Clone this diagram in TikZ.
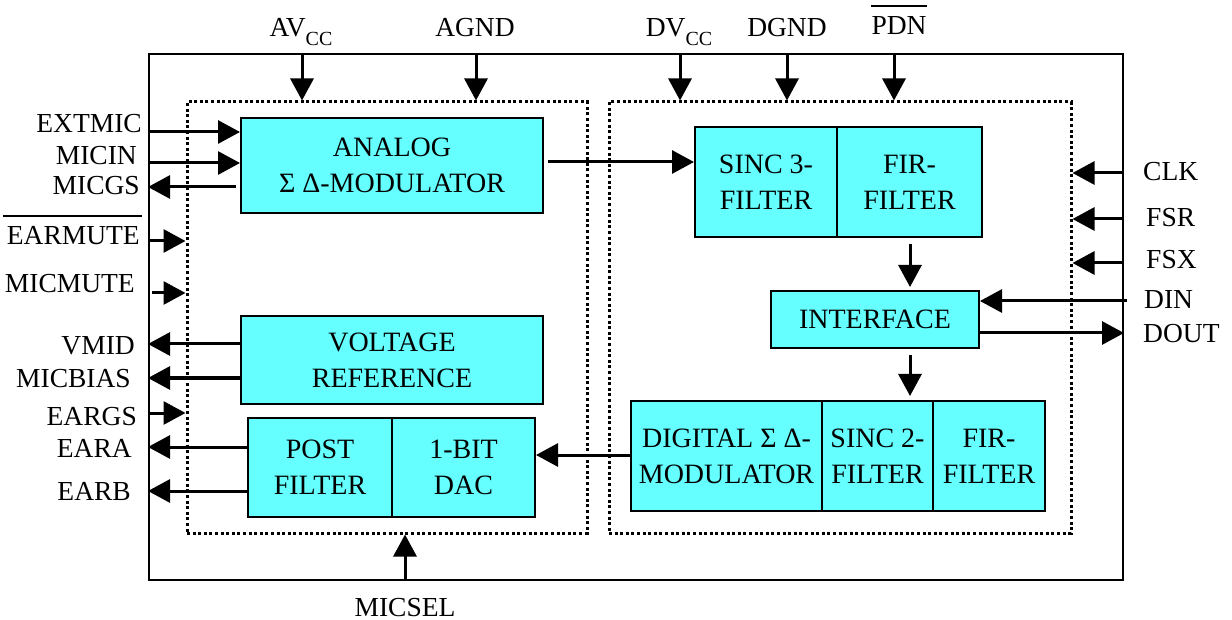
\documentclass[tikz,border=0pt]{standalone}
\usepackage{fontspec}
\setmainfont{Liberation Serif}
\usetikzlibrary{arrows.meta}
\definecolor{blk}{RGB}{102,255,255}
\begin{document}
\begin{tikzpicture}[x=1pt,y=-1pt,
  block/.style={draw=black, line width=2pt, fill=blk, inner sep=0pt, align=center,
    font=\fontsize{28}{36}\selectfont},
  lbl/.style={inner sep=0pt, font=\fontsize{27.5}{36}\selectfont},
  arr/.style={line width=3pt, -{Triangle[length=22pt,width=23pt]}},
  frame/.style={draw=black, line width=2pt, inner sep=0pt},
  dotbox/.style={draw=black, line width=3pt, dash pattern=on 3pt off 2.6pt, inner sep=0pt},
  bar/.style={line width=1.5pt}]
\useasboundingbox (0,0) rectangle (1232,620);

% chip outline and domains
\node[frame, minimum width=974pt, minimum height=526pt] (chip) at (636,317) {};
\node[dotbox, minimum width=400pt, minimum height=431pt] (ana) at (387,317.5) {};
\node[dotbox, minimum width=462pt, minimum height=431pt] (dgt) at (840,317.5) {};

% blocks
\node[block, minimum width=302pt, minimum height=95pt] (analog) at (392,165.5) {ANALOG\\Σ Δ-MODULATOR};
\node[block, minimum width=302pt, minimum height=88pt] (vref) at (392,360) {VOLTAGE\\REFERENCE};
\node[block, minimum width=144pt, minimum height=99pt] (post) at (320,467.5) {POST\\FILTER};
\node[block, minimum width=143pt, minimum height=99pt] (dac) at (463.5,467.5) {1-BIT\\DAC};
\node[block, minimum width=142pt, minimum height=110pt] (sinc3) at (766,182) {SINC 3-\\FILTER};
\node[block, minimum width=145pt, minimum height=110pt] (fir1) at (909.5,182) {FIR-\\FILTER};
\node[block, minimum width=208pt, minimum height=57pt] (iface) at (875,319.5) {INTERFACE};
\node[block, minimum width=191pt, minimum height=110pt] (dig) at (726.5,456) {DIGITAL Σ Δ-\\MODULATOR};
\node[block, minimum width=111pt, minimum height=110pt] (sinc2) at (877.5,456) {SINC 2-\\FILTER};
\node[block, minimum width=112pt, minimum height=110pt] (fir2) at (989,456) {FIR-\\FILTER};

% top labels
\node[lbl, anchor=base] (avcc) at (301,37) {AV\raisebox{-9pt}{\fontsize{20}{20}\selectfont CC}};
\node[lbl, anchor=base] (agnd) at (475,37) {AGND};
\node[lbl, anchor=base] (dvcc) at (679,37) {DV\raisebox{-9pt}{\fontsize{20}{20}\selectfont CC}};
\node[lbl, anchor=base] (dgnd) at (787,37) {DGND};
\node[lbl, anchor=base] (pdn) at (899,35) {PDN};
\draw[bar] (pdn.west |- 0,6) -- (pdn.east |- 0,6);

% left labels
\node[lbl, anchor=base east] (extmic) at (142,133) {EXTMIC};
\node[lbl, anchor=base east] (micin) at (137,165) {MICIN};
\node[lbl, anchor=base east] (micgs) at (140,195) {MICGS};
\node[lbl, anchor=base east] (earmute) at (140,245) {EARMUTE};
\draw[bar] ([xshift=-4pt]earmute.west |- 0,216) -- ([xshift=2pt]earmute.east |- 0,216);
\node[lbl, anchor=base east] (micmute) at (135,293) {MICMUTE};
\node[lbl, anchor=base east] (vmid) at (135,355) {VMID};
\node[lbl, anchor=base east] (micbias) at (131,388) {MICBIAS};
\node[lbl, anchor=base east] (eargs) at (137,425) {EARGS};
\node[lbl, anchor=base east] (eara) at (132,457) {EARA};
\node[lbl, anchor=base east] (earb) at (131,500) {EARB};

% right labels
\node[lbl, anchor=base west] (clk) at (1143,181) {CLK};
\node[lbl, anchor=base west] (fsr) at (1146,227) {FSR};
\node[lbl, anchor=base west] (fsx) at (1146,269) {FSX};
\node[lbl, anchor=base west] (din) at (1144,309) {DIN};
\node[lbl, anchor=base west] (dout) at (1143,343) {DOUT};

% bottom label
\node[lbl, anchor=base] (micsel) at (405,616) {MICSEL};

% top pins
\draw[arr] (302,0 |- chip.north) -- (302,0 |- ana.north);
\draw[arr] (476,0 |- chip.north) -- (476,0 |- ana.north);
\draw[arr] (680,0 |- chip.north) -- (680,0 |- dgt.north);
\draw[arr] (787,0 |- chip.north) -- (787,0 |- dgt.north);
\draw[arr] (894,0 |- chip.north) -- (894,0 |- dgt.north);

% left pins
\draw[arr] (chip.west |- 0,132) -- (analog.west |- 0,132);
\draw[arr] (chip.west |- 0,163) -- (analog.west |- 0,163);
\draw[arr] ([xshift=-4pt]analog.west |- 0,187) -- (chip.west |- 0,187);
\draw[arr] ([xshift=2pt]chip.west |- 0,241) -- (ana.west |- 0,241);
\draw[arr] ([xshift=4pt]chip.west |- 0,293) -- (ana.west |- 0,293);
\draw[arr] (vref.west |- 0,344) -- (chip.west |- 0,344);
\draw[arr] (vref.west |- 0,378) -- (chip.west |- 0,378);
\draw[arr] (chip.west |- 0,413) -- (ana.west |- 0,413);
\draw[arr] (post.west |- 0,447) -- (chip.west |- 0,447);
\draw[arr] (post.west |- 0,491) -- (chip.west |- 0,491);

% right pins
\draw[arr] (chip.east |- 0,173) -- (dgt.east |- 0,173);
\draw[arr] (chip.east |- 0,219) -- (dgt.east |- 0,219);
\draw[arr] (chip.east |- 0,263) -- (dgt.east |- 0,263);
\draw[arr] ([xshift=3pt]chip.east |- 0,301) -- (iface.east |- 0,301);
\draw[arr] (iface.east |- 0,333) -- (chip.east |- 0,333);

% bottom pin
\draw[arr] (405,0 |- chip.south) -- (405,0 |- ana.south);

% internal flow
\draw[arr] ([xshift=4pt]analog.east |- 0,162) -- (sinc3.west |- 0,162);
\draw[arr, shorten <=6pt, shorten >=3pt] (910,0 |- fir1.south) -- (910,0 |- iface.north);
\draw[arr, shorten <=6pt, shorten >=4pt] (910,0 |- iface.south) -- (910,0 |- sinc2.north);
\draw[arr] (dig.west |- 0,455) -- (dac.east |- 0,455);
\end{tikzpicture}
\end{document}
